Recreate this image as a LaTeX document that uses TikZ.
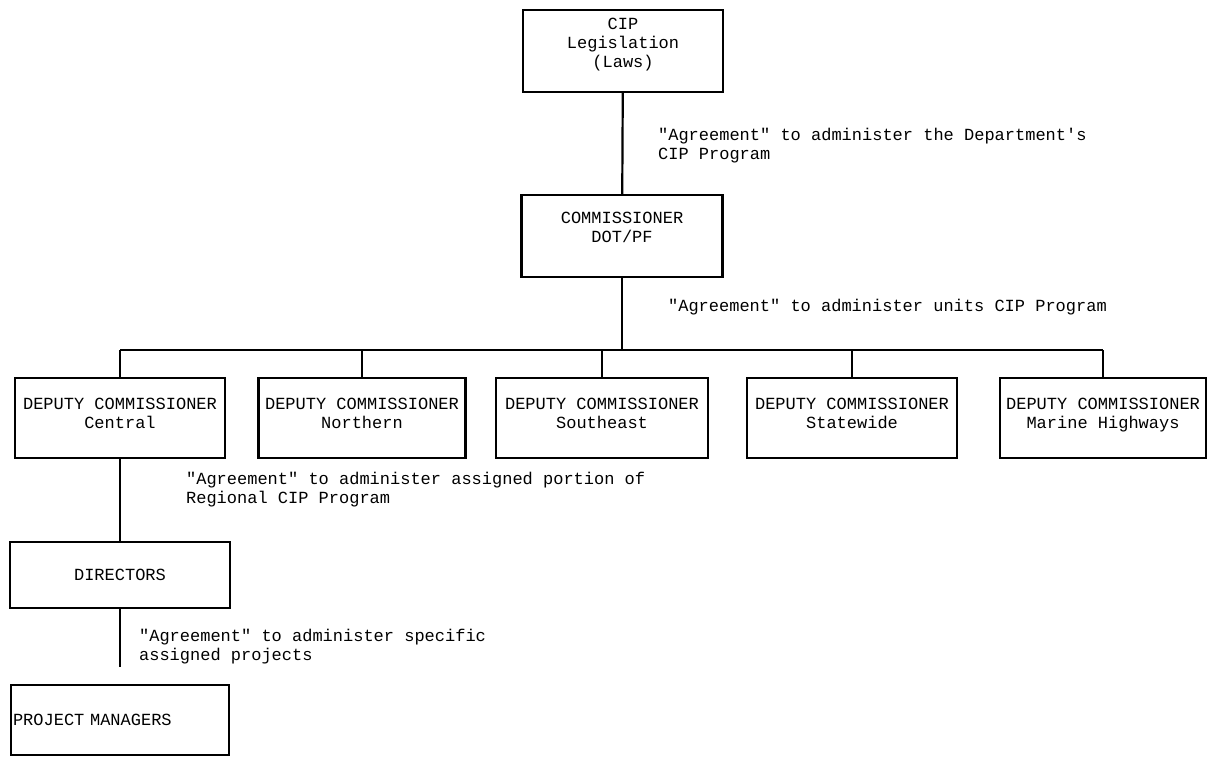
\documentclass[tikz,border=0pt]{standalone}
\usepackage{fontspec}
\setmonofont{Liberation Mono}
\usepackage{tikz}
\usetikzlibrary{arrows,calc,positioning}

\begin{document}
\begin{tikzpicture}[x=0.5pt,y=-0.5pt,font=\ttfamily\fontsize{8.5}{9.5}\selectfont,line width=1.1pt]
	\tikzstyle{block} = [draw, rectangle, align=center, inner sep=1pt]
	\tikzstyle{deputy} = [block, minimum height=40pt, text depth=5pt]
	\tikzstyle{note} = [anchor=west, align=left, inner sep=0pt]

	\useasboundingbox (0,0) rectangle (1208,756);

	\node [block, minimum width=100pt, minimum height=41pt, text depth=8pt] (law) at (623,51) {CIP\\Legislation\\(Laws)};
	\node [block, minimum width=100.5pt, minimum height=41pt, text depth=9pt] (comm) at (622,236) {COMMISSIONER\\DOT/PF};
	\coordinate (bus) at (622,350);

	\foreach \n/\x/\w/\r in {central/120/105/Central, northern/362/103.5/Northern, southeast/602/106/Southeast, statewide/852/105/Statewide, marine/1103/103/Marine Highways}
		{ \node [deputy, minimum width=\w pt] (\n) at (\x,418) {DEPUTY COMMISSIONER\\\r};}

	\draw (law) -- (comm);
	\draw (comm) -- (bus);
	\draw (central.north |- bus) -- (marine.north |- bus);
	\foreach \n in {central,northern,southeast,statewide,marine}
		\draw (\n.north |- bus) -- (\n);

	\node [block, minimum width=110pt, minimum height=33pt] (dir) at (120,575) {DIRECTORS};
	\node [block, minimum height=35pt, text width=107pt, align=left] (pm) at (120,720) {PROJECT MANAGERS};

	\draw (central) -- (dir);
	\draw [shorten >=8.5pt] (dir) -- (pm);

	\node [note] (lbl1) at (657,146) {"Agreement" to administer the Department's\\CIP Program};
	\node [note] (lbl2) at (667,307) {"Agreement" to administer units CIP Program};
	\node [note] (lbl3) at (185,490) {"Agreement" to administer assigned portion of\\Regional CIP Program};
	\node [note] (lbl4) at (138,647) {"Agreement" to administer specific\\assigned projects};
\end{tikzpicture}
\end{document}
